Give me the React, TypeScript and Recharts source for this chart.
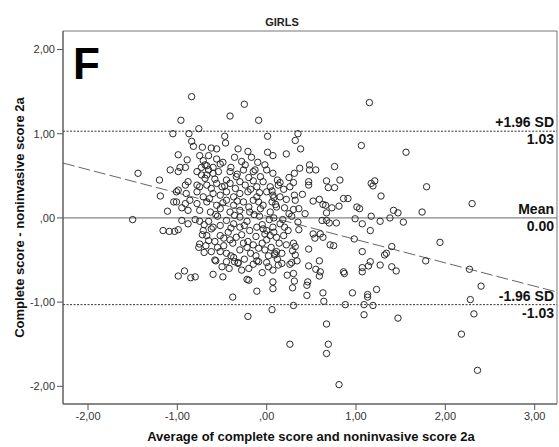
import { ScatterChart, Scatter, XAxis, YAxis, ReferenceLine, ReferenceArea } from 'recharts'

// Bland-Altman plot, girls, panel F
const xTicks = [-2, -1, 0, 1, 2, 3]
const yTicks = [-2, -1, 0, 1, 2]
const xDomain: [number, number] = [-2.28, 3.25]
const yDomain: [number, number] = [-2.21, 2.22]

const meanDiff = 0.0
const upperLoa = 1.03
const lowerLoa = -1.03

// proportional bias regression line (diff = a + b * avg)
const regIntercept = 0.02
const regSlope = -0.277

const upperOutliers: [number, number][] = [
  [-0.84, 1.44], [-0.25, 1.35], [-0.41, 1.21], [-0.09, 1.16], [-0.96, 1.16], [-0.76, 1.06], [-1.05, 1.0],
  [-0.87, 1.0], [0.01, 0.97], [-0.47, 0.97], [-0.46, 0.89], [-0.84, 0.91], [-0.82, 0.85], [-0.72, 0.84],
  [-0.62, 0.83], [-0.56, 0.82], [-0.32, 0.82], [-0.21, 0.79], [0.01, 0.78], [0.07, 0.74], [-0.99, 0.75],
  [-0.75, 0.74], [-0.65, 0.74], [-0.17, 0.72], [-0.36, 0.72], [-0.89, 0.69], [-1.44, 0.53], [-1.2, 0.45],
  [-1.19, 0.26], [-1.11, 0.08], [-1.5, -0.02], [0.35, 1.0], [0.32, 0.92], [0.38, 0.82], [0.22, 0.76],
  [1.15, 1.37], [1.06, 0.86], [1.56, 0.78],
]

const upperCluster: [number, number][] = [
  [-0.71, 0.68], [-0.67, 0.62], [-0.73, 0.6], [-0.65, 0.57], [-0.6, 0.6], [-0.52, 0.64], [-0.49, 0.66],
  [-0.28, 0.67], [-0.24, 0.63], [-0.02, 0.63], [-0.13, 0.57], [-0.54, 0.55], [-0.97, 0.6], [-0.91, 0.6],
  [-1.08, 0.57], [-0.99, 0.55], [-0.69, 0.63], [-0.73, 0.51],
  [-0.78, 0.55], [-0.67, 0.51], [-0.6, 0.53], [-0.41, 0.55], [-0.34, 0.49], [-0.26, 0.57], [-0.15, 0.55],
  [-0.07, 0.49], [0.0, 0.57], [0.07, 0.53],
  [-0.91, 0.39], [-0.88, 0.43], [-0.78, 0.39], [-0.75, 0.37], [-0.67, 0.39], [-0.56, 0.41], [-0.5, 0.37],
  [-0.41, 0.41], [-0.3, 0.43], [-0.24, 0.39], [-0.11, 0.37], [-0.04, 0.43], [0.04, 0.37], [0.13, 0.39],
  [-0.99, 0.33], [-1.01, 0.31], [-0.9, 0.29], [-0.78, 0.31], [-0.71, 0.25], [-0.6, 0.29], [-0.52, 0.27],
  [-0.45, 0.31], [-0.37, 0.25], [-0.3, 0.29], [-0.21, 0.31], [-0.11, 0.25], [0.0, 0.31], [0.07, 0.27],
  [-1.04, 0.19], [-1.01, 0.19], [-0.91, 0.17], [-0.86, 0.21], [-0.78, 0.17], [-0.67, 0.19], [-0.56, 0.15],
  [-0.45, 0.21], [-0.37, 0.15], [-0.26, 0.19], [-0.15, 0.21], [-0.04, 0.15], [0.06, 0.19],
  [-0.95, 0.12], [-0.88, 0.09], [-0.75, 0.09], [-0.63, 0.07], [-0.52, 0.11], [-0.41, 0.07], [-0.3, 0.09],
  [-0.19, 0.07], [-0.07, 0.11], [0.04, 0.07],
  [-0.4, 0.6], [-0.2, 0.48], [-0.58, 0.46], [-0.45, 0.45], [-0.15, 0.44],
]

// densest core, overlapping circles
const coreExtra: [number, number][] = [
  [-0.69, 0.47], [-0.62, 0.35], [-0.47, 0.38], [-0.35, 0.35], [-0.18, 0.34], [-0.08, 0.3], [-0.64, 0.23],
  [-0.49, 0.18], [-0.33, 0.2], [-0.2, 0.13], [-0.09, 0.19], [0.1, 0.16], [-0.57, 0.04], [-0.36, 0.03],
  [-0.14, 0.04], [0.08, 0.0], [-0.72, -0.2], [-0.48, -0.24], [-0.28, -0.2], [-0.12, -0.22], [0.08, -0.17],
  [-0.68, -0.33], [-0.52, -0.4], [-0.38, -0.3], [-0.22, -0.35], [-0.02, -0.38], [0.12, -0.49],
  [-0.42, -0.6], [-0.2, -0.6], [0.02, -0.58], [-0.33, 0.52], [-0.1, 0.66], [-0.56, 0.7],
]

const upperRight: [number, number][] = [
  [0.48, 0.63], [0.37, 0.59], [0.48, 0.57], [0.55, 0.57], [0.76, 0.61], [0.31, 0.53], [0.82, 0.45],
  [0.47, 0.43], [0.47, 0.39], [0.67, 0.44], [0.69, 0.36], [0.76, 0.36], [0.3, 0.42], [0.26, 0.37],
  [0.15, 0.42], [0.19, 0.34], [0.06, 0.32], [0.08, 0.24], [0.31, 0.27], [0.32, 0.21], [0.22, 0.22],
  [0.52, 0.2], [0.59, 0.22], [0.63, 0.16], [0.66, 0.15], [0.81, 0.14], [0.86, 0.23], [0.91, 0.23],
  [1.01, 0.13], [1.04, 0.11], [0.73, 0.12], [0.67, 0.06], [0.43, 0.05], [0.36, 0.11], [0.11, 0.13],
  [0.2, 0.12], [0.3, 0.1], [1.17, 0.41], [1.21, 0.44], [1.19, 0.38], [1.28, 0.26], [1.79, 0.37],
  [2.3, 0.17], [1.42, 0.09], [1.47, 0.06], [1.74, 0.07], [1.17, 0.02], [1.38, 0.0], [0.15, 0.25],
  [0.25, 0.05], [0.12, 0.45], [0.25, 0.48], [0.4, 0.28],
]

const lowerLeft: [number, number][] = [
  [-1.16, -0.15], [-1.09, -0.16], [-1.03, -0.16], [-0.99, -0.14], [-0.88, -0.07], [-0.75, -0.04],
  [-0.7, -0.08], [-0.99, -0.69], [-0.92, -0.63], [-0.85, -0.71], [-0.8, -0.7], [-0.6, -0.67],
  [-0.49, -0.7], [-0.38, -0.94], [-0.22, -0.73], [-0.2, -0.74], [-0.11, -0.87], [-0.21, -1.17],
  [0.06, -1.09], [0.07, -0.76], [0.07, -0.84], [-0.75, -0.31], [-0.7, -0.41], [-0.76, -0.35],
  [-0.57, -0.51], [-0.55, -0.35], [-0.45, -0.42], [-0.45, -0.52], [-0.37, -0.47], [-0.36, -0.52],
  [-0.32, -0.53], [-0.25, -0.49], [-0.12, -0.45], [-0.11, -0.51], [-0.09, -0.52], [0.0, -0.53],
  [0.07, -0.62], [0.09, -0.42], [-0.6, -0.11], [-0.52, -0.09], [-0.37, -0.07], [-0.3, -0.11],
  [-0.19, -0.15], [-0.11, -0.11], [-0.04, -0.13], [-0.26, -0.3], [-0.21, -0.28], [-0.15, -0.32],
  [-0.09, -0.36], [-0.41, -0.26], [-0.34, -0.23], [-0.67, -0.21], [-0.52, -0.21], [-0.43, -0.17],
  [-0.71, -0.15], [-0.65, -0.27], [0.0, -0.26], [-0.02, -0.19], [0.04, -0.21], [-0.95, -0.03],
  [-0.8, -0.02], [-0.65, -0.04], [-0.55, 0.02], [-0.45, -0.03], [-0.3, 0.01], [-0.22, -0.04],
  [-0.08, 0.02], [0.03, -0.02], [-0.62, -0.13], [-0.4, -0.12], [-0.25, -0.09], [-0.05, -0.08],
  [0.0, -0.15], [-0.58, -0.28], [-0.48, -0.33], [-0.3, -0.38], [-0.18, -0.42], [-0.05, -0.3],
  [0.05, -0.35], [-0.62, -0.4], [-0.4, -0.45], [-0.15, -0.55], [0.02, -0.45], [-0.5, -0.58],
  [-0.28, -0.62], [-0.05, -0.65], [-0.58, -0.5], [-0.32, -0.54],
]

const lowerRight: [number, number][] = [
  [1.94, -0.29], [1.78, -0.51], [2.27, -0.61], [2.4, -0.81], [2.28, -0.97], [2.32, -1.14], [2.18, -1.38],
  [2.36, -1.81], [1.47, -1.19], [1.4, -0.34], [1.34, -0.42], [1.32, -0.44], [1.27, -0.56], [1.4, -0.58],
  [1.45, -0.63], [1.16, -0.52], [1.14, -0.57], [1.07, -0.4], [1.07, -0.59], [1.07, -0.64], [0.86, -0.64],
  [0.87, -0.66], [1.23, -0.85], [1.13, -0.91], [1.13, -0.94], [0.96, -0.89], [1.09, -1.03], [1.19, -1.04],
  [1.09, -1.15], [0.88, -1.03], [0.67, -1.26], [0.69, -1.5], [0.67, -1.61], [0.81, -1.98], [0.26, -1.5],
  [0.63, -0.89], [0.64, -0.99], [0.3, -1.04], [0.45, -0.92], [0.46, -0.76], [0.45, -0.8], [0.29, -0.83],
  [0.31, -0.75], [0.3, -0.66], [0.23, -0.68], [0.59, -0.51], [0.6, -0.64], [0.59, -0.69], [0.55, -0.61],
  [0.47, -0.57], [0.47, -0.37], [0.71, -0.32], [0.75, -0.33], [0.98, -0.25], [0.63, -0.23], [0.6, -0.19],
  [0.52, -0.19], [0.54, -0.24], [0.36, -0.14], [0.3, -0.3], [0.32, -0.34], [0.29, -0.39], [0.32, -0.44],
  [0.34, -0.51], [0.28, -0.53], [0.26, -0.55], [0.17, -0.54], [0.13, -0.56], [0.09, -0.44], [0.17, -0.42],
  [0.11, -0.4], [0.14, -0.3], [0.19, -0.21], [0.11, -0.23], [0.2, -0.11], [0.24, -0.15], [0.07, -0.11],
  [0.15, -0.07], [0.99, -0.01], [1.07, -0.07], [0.62, -0.03], [0.7, -0.06], [0.78, -0.06], [1.27, -0.04],
  [1.53, -0.05], [1.16, -0.15], [0.22, -0.32], [0.18, -0.02], [0.28, 0.02], [0.35, -0.05], [0.67, -0.03],
]

const points = [...upperOutliers, ...upperCluster, ...coreExtra, ...upperRight, ...lowerLeft, ...lowerRight].map(
  ([x, y]) => ({ x, y }),
)

const font = '"Liberation Sans", Arial, sans-serif'

// SPSS style: 1,00  ,00  -1,00
const fmt = (v: number) => {
  const s = Math.abs(v).toFixed(2).replace('.', ',')
  return (v < 0 ? '-' : '') + (s.startsWith('0') ? s.slice(1) : s)
}

const lineLabel = (top: string, bottom: string) => (props: any) => {
  const { x, y, width } = props.viewBox
  const tx = x + width - 3
  return (
    <g fontFamily={font} fontWeight="bold" fontSize={14} fill="#111">
      <text x={tx} y={y - 4} textAnchor="end">{top}</text>
      <text x={tx} y={y + 13} textAnchor="end">{bottom}</text>
    </g>
  )
}

const Dot = (p: any) => <circle cx={p.cx} cy={p.cy} r={3.2} fill="none" stroke="#2a2a2a" strokeWidth={1} />

export default function App() {
  return (
    <div style={{ position: 'relative', width: 559, height: 447 }}>
      <style>{'body{margin:0}'}</style>
      <ScatterChart width={559} height={447} margin={{ top: 31, right: 2, bottom: 13, left: 8 }}>
        <ReferenceArea x1={xDomain[0]} x2={xDomain[1]} y1={yDomain[0]} y2={yDomain[1]} fill="none" stroke="#777" />
        <XAxis
          type="number"
          dataKey="x"
          domain={xDomain}
          ticks={xTicks}
          allowDataOverflow
          tickFormatter={fmt}
          height={30}
          tickSize={6}
          axisLine={{ stroke: '#555' }}
          tickLine={{ stroke: '#555' }}
          tick={{ fontSize: 11, fill: '#333', fontFamily: font }}
        />
        <YAxis
          type="number"
          dataKey="y"
          domain={yDomain}
          ticks={yTicks}
          allowDataOverflow
          tickFormatter={fmt}
          width={55}
          tickSize={6}
          axisLine={{ stroke: '#555' }}
          tickLine={{ stroke: '#555' }}
          tick={{ fontSize: 11, fill: '#333', fontFamily: font }}
        />
        <ReferenceLine y={upperLoa} stroke="#333" strokeDasharray="2 1.5" label={{ content: lineLabel('+1.96 SD', upperLoa.toFixed(2)) }} />
        <ReferenceLine y={meanDiff} stroke="#666" label={{ content: lineLabel('Mean', meanDiff.toFixed(2)) }} />
        <ReferenceLine y={lowerLoa} stroke="#333" strokeDasharray="2 1.5" label={{ content: lineLabel('-1.96 SD', lowerLoa.toFixed(2)) }} />
        <ReferenceLine
          segment={[
            { x: xDomain[0], y: regIntercept + regSlope * xDomain[0] },
            { x: xDomain[1], y: regIntercept + regSlope * xDomain[1] },
          ]}
          stroke="#666"
          strokeDasharray="12 4"
        />
        <Scatter data={points} shape={Dot} isAnimationActive={false} />
      </ScatterChart>
      <svg width={559} height={447} style={{ position: 'absolute', left: 0, top: 0, pointerEvents: 'none' }} fontFamily={font}>
        <text x={282} y={26} textAnchor="middle" fontSize={11} fontWeight="bold" fill="#222">GIRLS</text>
        <text x={73} y={79} fontSize={44} fontWeight="bold" fill="#000">F</text>
        <text x={24} y={217.5} transform="rotate(-90 24 217.5)" textAnchor="middle" fontSize={13} fontWeight="bold" fill="#111">
          Complete score - noninvasive score 2a
        </text>
        <text x={311} y={441} textAnchor="middle" fontSize={13} fontWeight="bold" fill="#111">
          Average of complete score and noninvasive score 2a
        </text>
      </svg>
    </div>
  )
}
